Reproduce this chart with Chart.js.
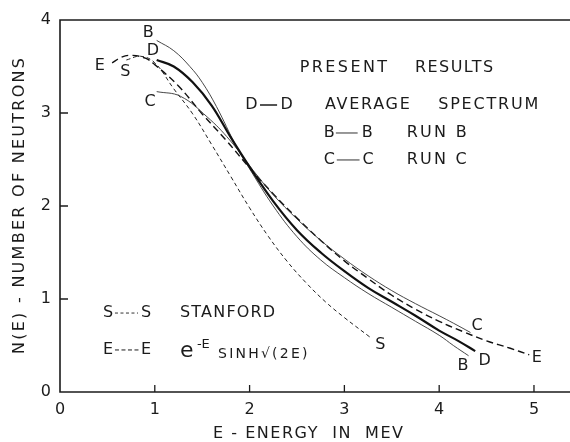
<!DOCTYPE html>
<html>
<head>
<meta charset="utf-8">
<script src="https://cdn.jsdelivr.net/npm/chart.js@4.4.1/dist/chart.umd.min.js"></script>
<style>
  html, body { margin: 0; padding: 0; background: #fff; }
  #chart { display: block; }
</style>
</head>
<body>
<canvas id="chart" width="570" height="442"></canvas>
<script>
// energies (MeV) and N(E)
const dEnergy = [1.02, 1.2, 1.4, 1.6, 1.8, 2.0, 2.25, 2.5, 2.75, 3.0, 3.25, 3.5, 3.75, 4.0, 4.2, 4.38];
const dCounts = [3.57, 3.50, 3.33, 3.08, 2.74, 2.42, 2.05, 1.74, 1.50, 1.30, 1.12, 0.97, 0.82, 0.66, 0.55, 0.44];

const bEnergy = [1.02, 1.2, 1.37, 1.5, 1.65, 1.86, 2.0, 2.25, 2.5, 2.75, 3.0, 3.25, 3.5, 3.75, 4.0, 4.15, 4.31];
const bCounts = [3.78, 3.67, 3.50, 3.33, 3.07, 2.64, 2.40, 2.00, 1.67, 1.42, 1.23, 1.06, 0.91, 0.76, 0.61, 0.50, 0.39];

const cEnergy = [1.02, 1.27, 1.55, 1.79, 2.04, 2.25, 2.5, 2.75, 3.0, 3.25, 3.5, 3.75, 4.0, 4.15, 4.33];
const cCounts = [3.23, 3.18, 2.96, 2.71, 2.38, 2.12, 1.86, 1.63, 1.43, 1.25, 1.09, 0.95, 0.82, 0.74, 0.64];

const eEnergy = [0.55, 0.65, 0.75, 0.9, 1.0, 1.25, 1.5, 1.75, 2.0, 2.25, 2.5, 2.75, 3.0, 3.25, 3.5, 3.75, 4.0, 4.25, 4.5, 4.75, 4.95];
const eCounts = [3.54, 3.60, 3.62, 3.59, 3.52, 3.29, 2.99, 2.71, 2.41, 2.13, 1.87, 1.63, 1.41, 1.22, 1.04, 0.89, 0.76, 0.65, 0.55, 0.47, 0.40];

const sEnergy = [0.7, 0.85, 1.0, 1.2, 1.4, 1.6, 1.8, 2.0, 2.2, 2.4, 2.6, 2.8, 3.0, 3.27];
const sCounts = [3.57, 3.61, 3.54, 3.26, 2.99, 2.66, 2.32, 1.98, 1.67, 1.40, 1.17, 0.97, 0.80, 0.59];

const xTickValues = [0, 1, 2, 3, 4, 5];
const yTickValues = [0, 1, 2, 3, 4];

// curve end letters, placed in data units
const curveLetters = [
  { t: 'B', e: 0.93, n: 3.86 }, { t: 'D', e: 0.98, n: 3.67 }, { t: 'C', e: 0.95, n: 3.12 },
  { t: 'E', e: 0.42, n: 3.51 }, { t: 'S', e: 0.69, n: 3.44 },
  { t: 'C', e: 4.40, n: 0.71 }, { t: 'D', e: 4.48, n: 0.34 }, { t: 'B', e: 4.25, n: 0.28 },
  { t: 'E', e: 5.03, n: 0.37 }, { t: 'S', e: 3.38, n: 0.51 }
];

// key words, stretched between two energies
const keyWords = [
  { t: 'PRESENT', e0: 2.53, e1: 3.45, n: 3.49 },
  { t: 'RESULTS', e0: 3.745, e1: 4.57, n: 3.49 },
  { t: 'AVERAGE', e0: 2.795, e1: 3.69, n: 3.086 },
  { t: 'SPECTRUM', e0: 3.99, e1: 5.045, n: 3.086 },
  { t: 'RUN B', e0: 3.657, e1: 4.29, n: 2.785 },
  { t: 'RUN C', e0: 3.657, e1: 4.29, n: 2.495 },
  { t: 'STANFORD', e0: 1.266, e1: 2.27, n: 0.849 }
];

// key samples: letter, short line, letter
const keySamples = [
  { t: 'D', a: 2.02, b: 2.39, l0: 2.11, l1: 2.29, n: 3.086, w: 1.5, dash: [] },
  { t: 'B', a: 2.84, b: 3.24, l0: 2.91, l1: 3.14, n: 2.785, w: 0.9, dash: [] },
  { t: 'C', a: 2.84, b: 3.25, l0: 2.92, l1: 3.16, n: 2.495, w: 0.9, dash: [] },
  { t: 'S', a: 0.506, b: 0.907, l0: 0.58, l1: 0.823, n: 0.849, w: 0.9, dash: [3, 2.5] },
  { t: 'E', a: 0.506, b: 0.907, l0: 0.58, l1: 0.83, n: 0.452, w: 1.0, dash: [4, 2.5] }
];

const ink = '#1b1b1b';
const face = '"DejaVu Sans", sans-serif';

function pairs(xs, ys) {
  return xs.map((v, i) => ({ x: v, y: ys[i] }));
}

function spaced(ctx, text, x0, x1, y) {
  ctx.letterSpacing = '0px';
  const w = ctx.measureText(text).width;
  const gap = text.length > 1 ? (x1 - x0 - w) / (text.length - 1) : 0;
  ctx.letterSpacing = gap + 'px';
  ctx.textAlign = 'left';
  ctx.fillText(text, x0, y);
  ctx.letterSpacing = '0px';
}

const paper = {
  id: 'paper',
  beforeDraw(chart) {
    const ctx = chart.ctx;
    ctx.save();
    ctx.fillStyle = '#fff';
    ctx.fillRect(0, 0, chart.width, chart.height);
    ctx.restore();
  },
  afterDraw(chart) {
    const { ctx, chartArea: a, scales } = chart;
    const x = scales.x, y = scales.y;
    ctx.save();
    ctx.strokeStyle = ink;
    ctx.fillStyle = ink;

    // frame: top, left, bottom
    ctx.lineWidth = 1.6;
    ctx.beginPath();
    ctx.moveTo(a.right, a.top);
    ctx.lineTo(a.left, a.top);
    ctx.lineTo(a.left, a.bottom);
    ctx.lineTo(a.right, a.bottom);
    ctx.stroke();

    // inward ticks
    ctx.lineWidth = 1.3;
    ctx.beginPath();
    xTickValues.slice(1).forEach(v => {
      const px = x.getPixelForValue(v);
      ctx.moveTo(px, a.bottom);
      ctx.lineTo(px, a.bottom - 7);
    });
    yTickValues.slice(1, -1).forEach(v => {
      const py = y.getPixelForValue(v);
      ctx.moveTo(a.left, py);
      ctx.lineTo(a.left + 8, py);
    });
    ctx.stroke();

    // curve letters
    ctx.font = '16px ' + face;
    ctx.textAlign = 'center';
    ctx.textBaseline = 'middle';
    curveLetters.forEach(c => ctx.fillText(c.t, x.getPixelForValue(c.e), y.getPixelForValue(c.n)));

    // key
    keyWords.forEach(k => spaced(ctx, k.t, x.getPixelForValue(k.e0), x.getPixelForValue(k.e1), y.getPixelForValue(k.n)));
    keySamples.forEach(k => {
      const py = y.getPixelForValue(k.n);
      ctx.textAlign = 'center';
      ctx.fillText(k.t, x.getPixelForValue(k.a), py);
      ctx.fillText(k.t, x.getPixelForValue(k.b), py);
      ctx.lineWidth = k.w;
      ctx.setLineDash(k.dash);
      ctx.beginPath();
      ctx.moveTo(x.getPixelForValue(k.l0), py);
      ctx.lineTo(x.getPixelForValue(k.l1), py);
      ctx.stroke();
      ctx.setLineDash([]);
    });

    // e^-E sinh sqrt(2E)
    ctx.textBaseline = 'alphabetic';
    ctx.textAlign = 'left';
    ctx.font = '22px ' + face;
    ctx.fillText('e', x.getPixelForValue(1.266), y.getPixelForValue(0.376));
    ctx.font = '13px ' + face;
    spaced(ctx, '-E', x.getPixelForValue(1.445), x.getPixelForValue(1.58), y.getPixelForValue(0.474));
    ctx.font = '14px ' + face;
    spaced(ctx, 'SINH\u221A(2E)', x.getPixelForValue(1.667), x.getPixelForValue(2.61), y.getPixelForValue(0.365));

    // axis titles
    ctx.font = '16px ' + face;
    ctx.textBaseline = 'middle';
    spaced(ctx, 'E - ENERGY  IN  MEV', 213, 403, 434);
    ctx.translate(20, 206);
    ctx.rotate(-Math.PI / 2);
    spaced(ctx, 'N(E) - NUMBER OF NEUTRONS', -148, 148, 0);
    ctx.restore();
  }
};

function curve(label, xs, ys, width, dash, color) {
  return {
    label: label,
    data: pairs(xs, ys),
    showLine: true,
    borderColor: color,
    borderWidth: width,
    borderDash: dash,
    pointRadius: 0,
    fill: false,
    tension: 0.4
  };
}

new Chart(document.getElementById('chart'), {
  type: 'scatter',
  data: {
    datasets: [
      curve('Average spectrum', dEnergy, dCounts, 2.2, [], '#111'),
      curve('Run B', bEnergy, bCounts, 0.9, [], '#333'),
      curve('Run C', cEnergy, cCounts, 0.9, [], '#333'),
      curve('e^-E sinh sqrt(2E)', eEnergy, eCounts, 1.4, [7, 4], '#111'),
      curve('Stanford', sEnergy, sCounts, 1.0, [4, 3], '#222')
    ]
  },
  options: {
    responsive: false,
    animation: false,
    devicePixelRatio: 1,
    layout: { padding: { top: 20, right: 0, left: 0, bottom: 0 } },
    plugins: { legend: { display: false }, tooltip: { enabled: false } },
    scales: {
      x: {
        type: 'linear',
        min: 0,
        max: 5.38,
        afterFit: s => { s.height = 50; },
        grid: { display: false, drawTicks: false },
        border: { display: false },
        ticks: {
          stepSize: 1,
          includeBounds: false,
          autoSkip: false,
          maxRotation: 0,
          padding: 8,
          color: ink,
          font: { family: face, size: 16 },
          callback: v => xTickValues.includes(v) ? String(v) : ''
        }
      },
      y: {
        type: 'linear',
        min: 0,
        max: 4,
        afterFit: s => { s.width = 60; },
        grid: { display: false, drawTicks: false },
        border: { display: false },
        ticks: {
          stepSize: 1,
          padding: 9,
          color: ink,
          font: { family: face, size: 16 },
          callback: v => yTickValues.includes(v) ? String(v) : ''
        }
      }
    }
  },
  plugins: [paper]
});
</script>
</body>
</html>
